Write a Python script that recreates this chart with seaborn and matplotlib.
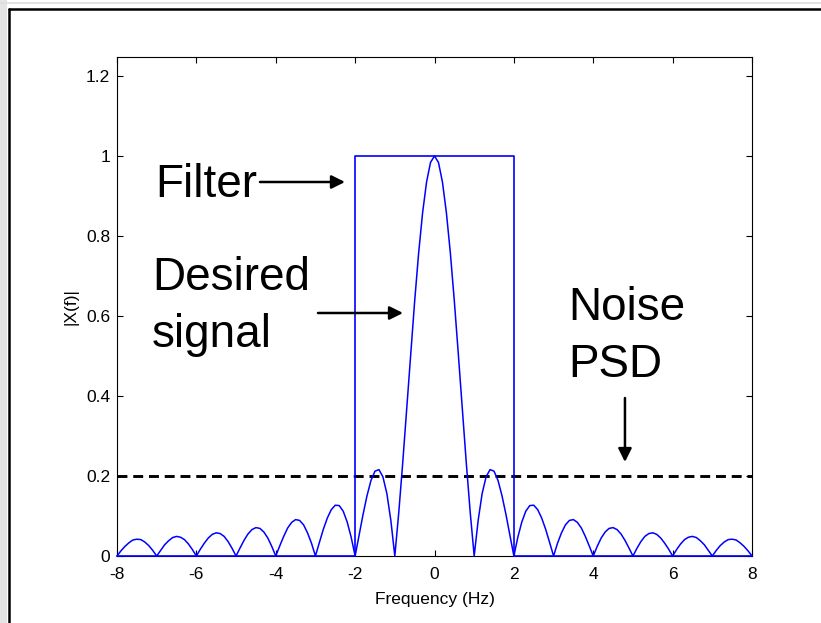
import numpy as np
import pandas as pd
import seaborn as sns
import matplotlib.pyplot as plt
from matplotlib.lines import Line2D
from matplotlib.patches import Rectangle

freq = np.linspace(-8, 8, 161)
magnitude = [
    0.000, 0.013, 0.024, 0.033, 0.040, 0.042, 0.041, 0.035, 0.026, 0.014,
    0.000, 0.014, 0.028, 0.038, 0.046, 0.049, 0.047, 0.041, 0.030, 0.016,
    0.000, 0.017, 0.032, 0.045, 0.054, 0.058, 0.056, 0.049, 0.036, 0.019,
    0.000, 0.020, 0.039, 0.055, 0.066, 0.071, 0.069, 0.060, 0.045, 0.024,
    0.000, 0.025, 0.049, 0.070, 0.084, 0.091, 0.089, 0.078, 0.058, 0.032,
    0.000, 0.034, 0.067, 0.095, 0.116, 0.127, 0.126, 0.112, 0.085, 0.047,
    0.000, 0.052, 0.104, 0.151, 0.189, 0.212, 0.216, 0.198, 0.156, 0.089,
    0.000, 0.109, 0.234, 0.368, 0.505, 0.637, 0.757, 0.858, 0.935, 0.984,
    1.000, 0.984, 0.935, 0.858, 0.757, 0.637, 0.505, 0.368, 0.234, 0.109,
    0.000, 0.089, 0.156, 0.198, 0.216, 0.212, 0.189, 0.151, 0.104, 0.052,
    0.000, 0.047, 0.085, 0.112, 0.126, 0.127, 0.116, 0.095, 0.067, 0.034,
    0.000, 0.032, 0.058, 0.078, 0.089, 0.091, 0.084, 0.070, 0.049, 0.025,
    0.000, 0.024, 0.045, 0.060, 0.069, 0.071, 0.066, 0.055, 0.039, 0.020,
    0.000, 0.019, 0.036, 0.049, 0.056, 0.058, 0.054, 0.045, 0.032, 0.017,
    0.000, 0.016, 0.030, 0.041, 0.047, 0.049, 0.046, 0.038, 0.028, 0.014,
    0.000, 0.014, 0.026, 0.035, 0.041, 0.042, 0.040, 0.033, 0.024, 0.013,
    0.000,
]

# ideal low-pass filter (passband -2..2 Hz)
filter_f = [-8, -2, -2, 2, 2, 8]
filter_gain = [0, 0, 1, 1, 0, 0]

# flat noise PSD level
noise_f = [-8, 8]
noise_level = [0.2, 0.2]

x_ticks = [-8, -6, -4, -2, 0, 2, 4, 6, 8]
y_ticks = [0, 0.2, 0.4, 0.6, 0.8, 1, 1.2]
y_tick_labels = ['0', '0.2', '0.4', '0.6', '0.8', '1', '1.2']

sns.set_theme(style='white')
plt.rcParams['font.family'] = ['Liberation Sans', 'DejaVu Sans']

fig = plt.figure(figsize=(8.21, 6.23), dpi=100)
ax = fig.add_axes([117 / 821, 1 - 556 / 623, 635 / 821, 499 / 623])

signal_df = pd.DataFrame({'f': freq, 'mag': magnitude})
filter_df = pd.DataFrame({'f': filter_f, 'gain': filter_gain})

sns.lineplot(data=filter_df, x='f', y='gain', ax=ax, color='#0000ff',
             lw=1.2, sort=False, estimator=None, zorder=3, clip_on=False)
sns.lineplot(data=signal_df, x='f', y='mag', ax=ax, color='#0000ff',
             lw=1.1, sort=False, estimator=None, zorder=3, clip_on=False)
ax.plot(noise_f, noise_level, color='black', lw=2.1, linestyle=(0, (3.4, 2.0)))

ax.set_xlim(-8, 8)
ax.set_ylim(0, 1.2475)
ax.set_xticks(x_ticks)
ax.set_xticklabels([str(t) for t in x_ticks])
ax.set_yticks(y_ticks)
ax.set_yticklabels(y_tick_labels)
ax.tick_params(direction='in', length=4.5, width=0.8, colors='black',
               labelsize=12.5, top=True, right=True, bottom=True, left=True)
ax.tick_params(axis='x', pad=8)
ax.tick_params(axis='y', pad=5)
for sp in ax.spines.values():
    sp.set_color('black')
    sp.set_linewidth(0.8)

ax.set_xlabel('Frequency (Hz)', fontsize=12.5, color='black', labelpad=7)
ax.set_ylabel('|X(f)|', fontsize=12.5, color='black', labelpad=5)

# annotations
big = dict(fontsize=33, color='black', ha='left', va='baseline')
ax.text(-7.043, 0.8975, 'Filter', **big)
ax.text(-7.118, 0.665, 'Desired', **big)
ax.text(-7.118, 0.5225, 'signal', **big)
ax.text(3.363, 0.59, 'Noise', **big)
ax.text(3.363, 0.4475, 'PSD', **big)

arrow = dict(arrowstyle='-|>', mutation_scale=20, lw=1.8, color='black',
             shrinkA=0, shrinkB=0)
ax.annotate('', xy=(-2.256, 0.935), xytext=(-4.397, 0.935), arrowprops=arrow)
ax.annotate('', xy=(-0.794, 0.6075), xytext=(-2.936, 0.6075), arrowprops=arrow)
ax.annotate('', xy=(4.799, 0.235), xytext=(4.799, 0.395), arrowprops=arrow)

# window frame around the figure
fig.add_artist(Rectangle((0, 0), 7 / 821, 1, transform=fig.transFigure,
                         facecolor='#e4e4e4', edgecolor='none'))
fig.add_artist(Line2D([0, 1], [1 - 2.5 / 623, 1 - 2.5 / 623],
                      transform=fig.transFigure, color='#dddddd', lw=1.2))
fig.add_artist(Line2D([8.5 / 821, 8.5 / 821], [0, 1 - 8.5 / 623],
                      transform=fig.transFigure, color='black', lw=1.8))
fig.add_artist(Line2D([8.5 / 821, 1], [1 - 8.5 / 623, 1 - 8.5 / 623],
                      transform=fig.transFigure, color='black', lw=1.8))

fig.savefig('out.png', dpi=100)
